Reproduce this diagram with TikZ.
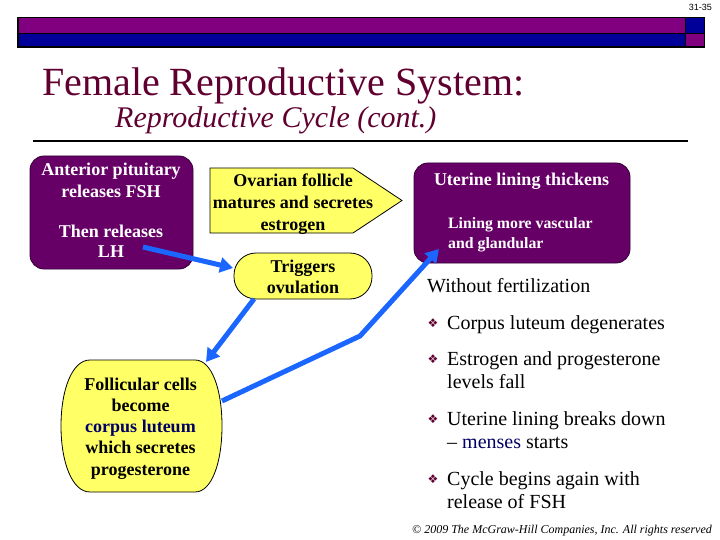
\documentclass[tikz,border=0pt]{standalone}
\usepackage{fontspec}
\setmainfont{Liberation Serif}
\newfontfamily\dejavu{DejaVu Sans}
\newfontfamily\arialf{Liberation Sans}
\usetikzlibrary{arrows.meta}
\definecolor{barpurple}{RGB}{128,0,128}
\definecolor{barblue}{RGB}{0,0,153}
\definecolor{boxpurple}{RGB}{102,0,102}
\definecolor{boxyellow}{RGB}{255,255,102}
\definecolor{arrowblue}{RGB}{26,102,255}
\definecolor{titlemaroon}{RGB}{96,0,48}
\definecolor{navytext}{RGB}{0,0,102}
\begin{document}
\begin{tikzpicture}[x=1pt,y=-1pt,
 pbox/.style={draw=black!50!boxpurple, line width=0.8pt, fill=boxpurple, rounded corners=14pt, inner sep=0pt},
 ybox/.style={draw=black, line width=0.8pt, fill=boxyellow},
 wtxt/.style={text=white, font=\fontsize{18}{18}\selectfont\bfseries, anchor=base, inner sep=0pt},
 btxt/.style={text=black, font=\fontsize{18}{18}\selectfont\bfseries, anchor=base, inner sep=0pt},
 bul/.style={font=\fontsize{20}{20}\selectfont, anchor=base west, inner sep=0pt},
 bulmark/.style={font=\dejavu\fontsize{12}{12}\selectfont, text=titlemaroon, anchor=center, inner sep=0pt},
 conn/.style={draw=arrowblue, line width=5pt, -{Triangle[length=13pt,width=15pt]}, line join=round}]
\useasboundingbox (0,0) rectangle (720,540);
\fill[white] (0,0) rectangle (720,540);
% top bar
\fill[black] (17,17) rectangle (705,48);
\fill[barpurple] (18.5,18.5) rectangle (684.5,33);
\fill[barblue] (18.5,34.5) rectangle (684.5,46.5);
\fill[barblue] (686,18.5) rectangle (703.5,33);
\fill[barpurple] (686,34.5) rectangle (703.5,46.5);
\node[font=\arialf\fontsize{9}{9}\selectfont, anchor=base east, inner sep=0pt] (pg) at (712,11) {31-35};
% titles
\node[anchor=base west, inner sep=0pt, text=titlemaroon, font=\fontsize{40}{40}\selectfont] (title) at (42,96) {Female Reproductive System:};
\node[anchor=base west, inner sep=0pt, text=titlemaroon, font=\fontsize{30}{30}\selectfont\itshape] (subtitle) at (115,128) {Reproductive Cycle (cont.)};
\draw[line width=2pt] (33,141) -- (688,141);
% box A
\node[pbox, minimum width=163pt, minimum height=113pt] (ant) at (111.5,212.5) {};
\node[wtxt] (ant1) at (111,176) {Anterior pituitary};
\node[wtxt] (ant2) at (111,197) {releases FSH};
\node[wtxt] (ant3) at (111,237) {Then releases};
\node[wtxt] (ant4) at (111,258) {LH};
% ovarian pentagon
\draw[ybox] (210,168) -- (353,168) -- (402,200.5) -- (353,233) -- (210,233) -- cycle;
\node[btxt] (ova1) at (293,187) {Ovarian follicle};
\node[btxt] (ova2) at (293,208.5) {matures and secretes};
\node[btxt] (ova3) at (293,230) {estrogen};
% triggers
\node[ybox, rounded corners=22pt, minimum width=138pt, minimum height=46pt, inner sep=0pt] (trig) at (303,276) {};
\node[btxt] (trig1) at (303,272) {Triggers};
\node[btxt] (trig2) at (303,293) {ovulation};
% uterine
\node[pbox, minimum width=216pt, minimum height=100pt] (uter) at (522,213) {};
\node[wtxt] (uter1) at (521.5,186) {Uterine lining thickens};
\node[wtxt, font=\fontsize{15.8}{15.8}\selectfont\bfseries, anchor=base west] (uter2) at (448,229) {Lining more vascular};
\node[wtxt, font=\fontsize{15.8}{15.8}\selectfont\bfseries, anchor=base west] (uter3) at (448,248) {and glandular};
% follicular
\draw[ybox] (90,360) -- (195,360) .. controls (212,360) and (222,390) .. (222,426) .. controls (222,462) and (212,492) .. (195,492) -- (90,492) .. controls (72,492) and (61,462) .. (61,426) .. controls (61,390) and (72,360) .. (90,360) -- cycle;
\node[btxt] (fol1) at (140.5,390) {Follicular cells};
\node[btxt] (fol2) at (140.5,411) {become};
\node[btxt, text=navytext] (fol3) at (140.5,432) {corpus luteum};
\node[btxt] (fol4) at (140.5,453) {which secretes};
\node[btxt] (fol5) at (140.5,475) {progesterone};
% connectors
\coordinate (a1s) at (143,247);
\coordinate (a1e) at (233,268);
\coordinate (a2s) at (254,299);
\coordinate (a2e) at (206,362);
\coordinate (a3s) at (222,401);
\coordinate (a3k) at (360,336);
\coordinate (a3e) at (439,249);
\draw[conn] (a1s) -- (a1e);
\draw[conn] (a2s) -- (a2e);
\draw[conn] (a3s) -- (a3k) -- (a3e);
% right text
\node[bul] (wf) at (427,292) {Without fertilization};
\node[bul] (b1) at (447,329) {Corpus luteum degenerates};
\node[bul] (b2a) at (447,365) {Estrogen and progesterone};
\node[bul] (b2b) at (447,388) {levels fall};
\node[bul] (b3a) at (447,425) {Uterine lining breaks down};
\node[bul] (b3b) at (447,448) {\textendash{} \textcolor{navytext}{menses} starts};
\node[bul] (b4a) at (447,485) {Cycle begins again with};
\node[bul] (b4b) at (447,508) {release of FSH};
\node[bulmark] (m1) at (433,323) {❖};
\node[bulmark] (m2) at (433,359) {❖};
\node[bulmark] (m3) at (433,419) {❖};
\node[bulmark] (m4) at (433,479) {❖};
\node[font=\fontsize{12}{12}\selectfont\itshape, anchor=base east, inner sep=0pt] (copy) at (712,533) {\textcopyright{} 2009 The McGraw-Hill Companies, Inc. All rights reserved};
\end{tikzpicture}
\end{document}
